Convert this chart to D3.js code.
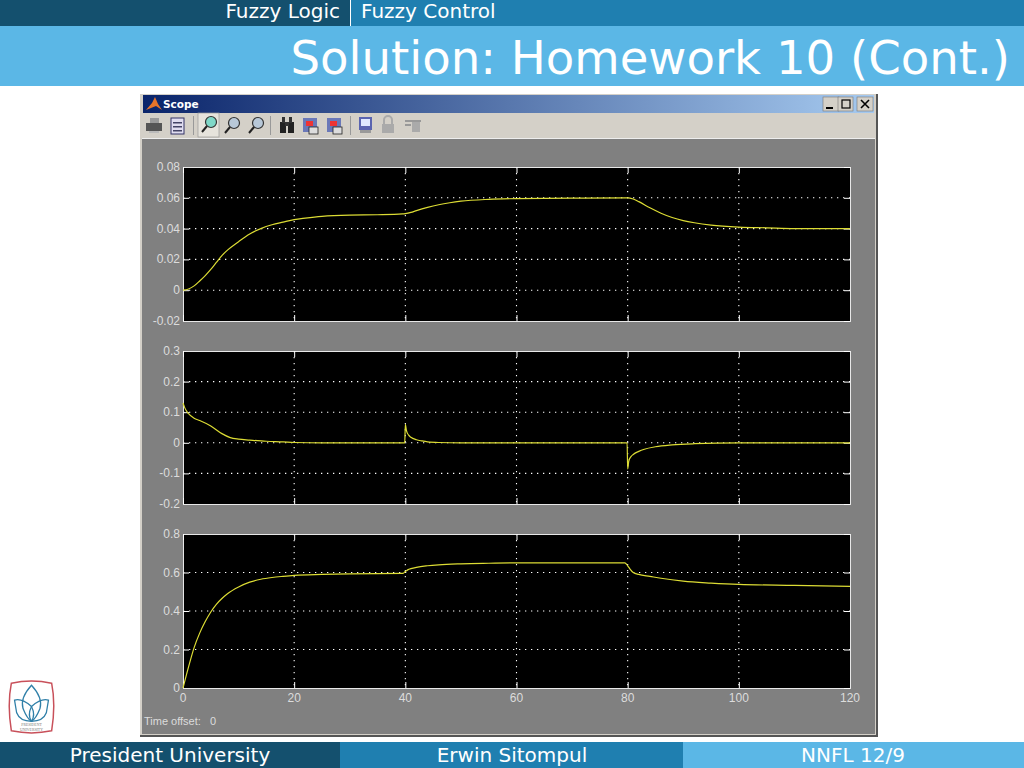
<!DOCTYPE html>
<html><head><meta charset="utf-8">
<script src="https://cdn.jsdelivr.net/npm/d3@7/dist/d3.min.js"></script>
<style>html,body{margin:0;padding:0;background:#fff;overflow:hidden}svg{display:block}
.sl{font-family:"DejaVu Sans",sans-serif;fill:#fff}
.tk{font-family:"Liberation Sans",Arial,sans-serif;font-size:12px;fill:#dcdcdc}
</style></head><body><svg id="c" width="1024" height="768"></svg>
<script>
const headerLeft="Fuzzy Logic", headerRight="Fuzzy Control", slideTitle="Solution: Homework 10 (Cont.)";
const footerTexts=["President University","Erwin Sitompul","NNFL 12/9"];
const xDomain=[0,120], xTicks=[0,20,40,60,80,100,120];
const yTicks1=[-0.02,0,0.02,0.04,0.06,0.08], yTicks2=[-0.2,-0.1,0,0.1,0.2,0.3], yTicks3=[0,0.2,0.4,0.6,0.8];
const t1=[0,1,2,3,4,5,6,7,8,10,12,14,16,18,20,22,25,30,35,39.5,40,41,42,44,46,48,50,55,60,70,80,81,82,84,86,88,90,92,95,100,105,110,120];
const v1=[0,.0008,.0028,.006,.0095,.0135,.018,.0225,.026,.0315,.0365,.04,.0425,.0442,.0458,.0468,.048,.0488,.049,.0495,.0497,.0505,.0517,.0538,.0555,.0568,.0578,.059,.0595,.0598,.06,.0592,.0575,.0535,.05,.0472,.0452,.0438,.0423,.041,.0405,.04,.04];
const t2=[0,.3,1,2,3,5,7,8.5,10,12,15,18,20,25,39.9,40,40.2,40.6,41,42,43,44,46,50,60,79.9,80,80.2,80.6,81,82,83,85,88,92,100,120];
const v2=[.13,.115,.095,.08,.073,.055,.03,.017,.012,.009,.005,.003,.001,0,0,.06,.04,.025,.018,.01,.006,.003,.001,0,0,0,-.085,-.06,-.045,-.038,-.028,-.021,-.013,-.007,-.003,0,0];
const t3=[0,1,2,3,4,5,6,7,8,10,12,14,16,18,20,25,30,39.5,40,40.5,41,42,44,46,50,55,60,70,79.5,80,80.5,81,82,84,86,90,95,100,110,120];
const v3=[0,.11,.21,.285,.345,.395,.435,.465,.49,.525,.55,.565,.574,.58,.585,.59,.593,.595,.605,.615,.62,.627,.635,.64,.645,.648,.65,.65,.65,.635,.615,.6,.59,.58,.57,.555,.545,.538,.533,.528];

const svg=d3.select("#c");
const rect=(x,y,w,h,f,p=svg)=>p.append("rect").attr("x",x).attr("y",y).attr("width",w).attr("height",h).attr("fill",f);
// slide chrome
rect(0,0,350,26,"#14506e"); rect(350,0,674,26,"#1f7fb0"); rect(0,26,1024,60,"#5bb7e6");
rect(350,0,1,26,"#fff");
svg.append("text").attr("class","sl").attr("x",340).attr("y",18).attr("text-anchor","end").attr("font-size",20).text(headerLeft);
svg.append("text").attr("class","sl").attr("x",361).attr("y",18).attr("font-size",20).text(headerRight);
svg.append("text").attr("class","sl").attr("x",1010).attr("y",74).attr("text-anchor","end").attr("font-size",46.6).text(slideTitle);
rect(0,742,340,26,"#14506e"); rect(340,742,343,26,"#1f7fb0"); rect(683,742,341,26,"#5bb7e6");
[[170],[512],[853]].forEach((p,i)=>svg.append("text").attr("class","sl").attr("x",p[0]).attr("y",762).attr("text-anchor","middle").attr("font-size",20).text(footerTexts[i]));
// logo
const lg=svg.append("g").attr("transform","translate(31.5,707) scale(1.06) translate(-31,-706.5)");
lg.append("path").attr("d","M12 684 Q31 680 50 684 Q54 704 50 729 Q31 733 12 729 Q8 704 12 684Z").attr("fill","#fff").attr("stroke","#c8505a").attr("stroke-width",1.4);
const lc="#2f7fa8";
["M31 686 Q20 698 23 708 Q27 718 31 720 Q35 718 39 708 Q42 698 31 686Z","M15 700 Q22 698 31 706 Q35 714 31 720 Q20 720 17 712Z","M47 700 Q40 698 31 706 Q27 714 31 720 Q42 720 45 712Z"].forEach(d=>lg.append("path").attr("d",d).attr("fill","none").attr("stroke",lc).attr("stroke-width",1.2));
lg.append("text").attr("x",31).attr("y",724).attr("text-anchor","middle").attr("font-size",3.6).attr("font-family","Liberation Serif").attr("fill","#777").text("PRESIDENT");
lg.append("text").attr("x",31).attr("y",729).attr("text-anchor","middle").attr("font-size",3.6).attr("font-family","Liberation Serif").attr("fill","#777").text("UNIVERSITY");
// window
rect(140,93,738,643,"#d4d0c8");
rect(876,93,2,643,"#555"); rect(140,735,738,2,"#555"); rect(140,93,738,1,"#fff");
const defs=svg.append("defs");
const g=defs.append("linearGradient").attr("id","tb");
g.append("stop").attr("offset","0").attr("stop-color","#0a246a");
g.append("stop").attr("offset","1").attr("stop-color","#a6caf0");
rect(143,95,731,18,"url(#tb)");
svg.append("path").attr("d","M146 110 L152 103 L155 97 L158 104 L162 110 L156 106Z").attr("fill","#e8742a");
svg.append("text").attr("x",163).attr("y",108).attr("font-family","DejaVu Sans").attr("font-weight","bold").attr("font-size",10.5).attr("fill","#fff").text("Scope");
[823,838,857].forEach((x,i)=>{rect(x,97,i==1?15:16,14,"#d4d0c8").attr("stroke","#777").attr("stroke-width",.6);});
rect(826,107,7,2,"#000");
svg.append("rect").attr("x",842).attr("y",100).attr("width",8).attr("height",8).attr("fill","none").attr("stroke","#000").attr("stroke-width",1.2);
svg.append("path").attr("d","M861 100L869 108M869 100L861 108").attr("stroke","#000").attr("stroke-width",1.6);
// toolbar icons
const tbar=svg.append("g");
rect(146,123,16,8,"#555",tbar); rect(150,118,9,5,"#999",tbar); rect(149,131,10,2,"#bbb",tbar);
rect(171,118,13,16,"#e0ddf0",tbar).attr("stroke","#336").attr("stroke-width",1);
[122,126,130].forEach(y=>rect(173,y,9,1.5,"#446",tbar));
rect(198,113,21,24,"#e6e3dc",tbar).attr("stroke","#999").attr("stroke-width",.7);
[[211,122,"#7fd8c8"],[234,123,"#b8c8d8"],[258,123,"#b8c8d8"]].forEach(d=>{
  tbar.append("circle").attr("cx",d[0]).attr("cy",d[1]).attr("r",5.5).attr("fill",d[2]).attr("stroke","#333").attr("stroke-width",1.2);
  tbar.append("line").attr("x1",d[0]-4).attr("y1",d[1]+4).attr("x2",d[0]-9).attr("y2",d[1]+10).attr("stroke","#222").attr("stroke-width",2);
});
[193,270,350].forEach(x=>rect(x,116,1,19,"#999",tbar));
rect(280,122,6,11,"#222",tbar); rect(288,122,6,11,"#222",tbar); rect(282,117,3,6,"#333",tbar); rect(289,117,3,6,"#333",tbar); rect(285,122,4,4,"#333",tbar);
[303,327].forEach(x=>{rect(x,118,14,14,"#6a78b8",tbar);rect(x+3,121,7,5,"#e33",tbar);rect(x+6,127,9,7,"#ddd",tbar).attr("stroke","#222").attr("stroke-width",.8);});
rect(359,117,13,13,"#5a64b0",tbar); rect(361,119,9,7,"#dfe8ff",tbar); rect(360,130,11,3,"#999",tbar);
rect(382,124,12,9,"#aaa",tbar); tbar.append("path").attr("d","M384 124V120a4 4 0 0 1 8 0V124").attr("fill","none").attr("stroke","#aaa").attr("stroke-width",2);
rect(405,120,16,2,"#999",tbar); rect(412,122,8,10,"#aaa",tbar); rect(405,124,6,2,"#999",tbar);
// scope background
rect(142,139,733,595,"#808080"); rect(142,138,733,1,"#eee");

const x=d3.scaleLinear().domain(xDomain).range([183,850]);
function panel(y0,y1,ticks,ts,vs,showX){
  const y=d3.scaleLinear().domain(d3.extent(ticks)).range([y1,y0]);
  rect(183,y0,667,y1-y0,"#000");
  const grid=svg.append("g").attr("stroke","#fff").attr("stroke-dasharray","1.3,4.7").attr("stroke-width",1.1);
  xTicks.slice(1,-1).forEach(v=>grid.append("line").attr("x1",x(v)).attr("x2",x(v)).attr("y1",y0).attr("y2",y1));
  ticks.slice(1,-1).forEach(v=>grid.append("line").attr("x1",183).attr("x2",850).attr("y1",y(v)).attr("y2",y(v)));
  const ya=svg.append("g").attr("transform","translate(183,0)").call(d3.axisRight(y).tickValues(ticks).tickSize(6).tickFormat(""));
  const xa=svg.append("g").attr("transform",`translate(0,${y1})`).call(d3.axisTop(x).tickValues(xTicks).tickSize(6).tickFormat(""));
  const xt=svg.append("g").attr("transform",`translate(0,${y0})`).call(d3.axisBottom(x).tickValues(xTicks).tickSize(6).tickFormat(""));
  const yr=svg.append("g").attr("transform","translate(850,0)").call(d3.axisLeft(y).tickValues(ticks).tickSize(6).tickFormat(""));
  [ya,xa,xt,yr].forEach(a=>{a.selectAll("line").attr("stroke","#fff");a.select(".domain").attr("stroke","#e8e8e8");});
  const line=d3.line().x((d,i)=>x(ts[i])).y(d=>y(d)).curve(d3.curveMonotoneX);
  svg.append("path").attr("d",line(vs)).attr("fill","none").attr("stroke","#dcdc34").attr("stroke-width",1.2);
  svg.append("g").selectAll("text").data(ticks).join("text").attr("class","tk").attr("x",180).attr("y",v=>y(v)+4).attr("text-anchor","end").text(v=>v);
  if(showX) svg.append("g").selectAll("text").data(xTicks).join("text").attr("class","tk").attr("x",v=>x(v)).attr("y",y1+14).attr("text-anchor","middle").text(v=>v);
}
panel(167,321,yTicks1,t1,v1,false);
panel(351,504,yTicks2,t2,v2,false);
panel(534,688,yTicks3,t3,v3,true);
svg.append("text").attr("class","tk").attr("style","font-size:11px").attr("x",144).attr("y",725).text("Time offset:");
svg.append("text").attr("class","tk").attr("style","font-size:11px").attr("x",210).attr("y",725).text("0");
</script></body></html>
